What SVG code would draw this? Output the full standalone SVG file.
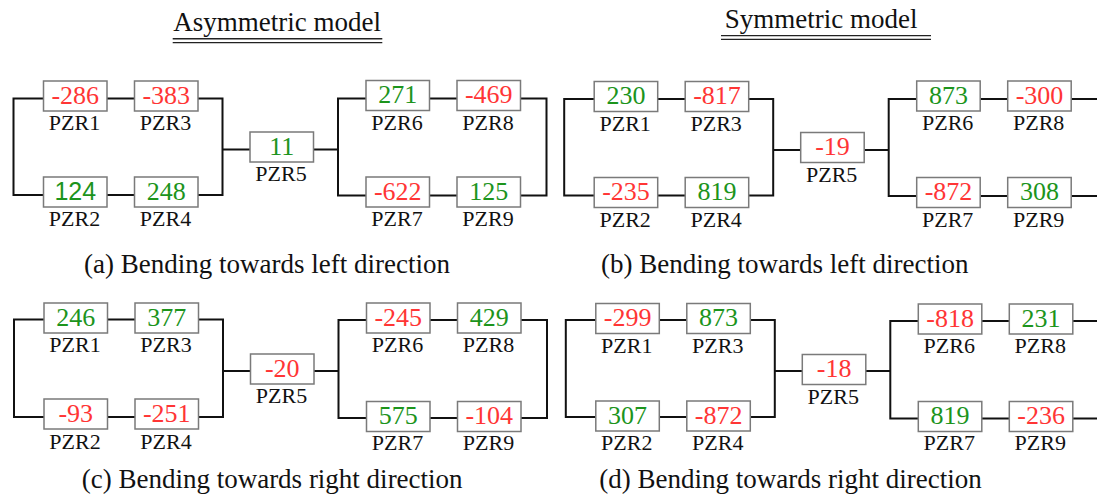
<svg xmlns="http://www.w3.org/2000/svg" width="1097" height="497" viewBox="0 0 1097 497">
<defs>
<style>
.bx{fill:#fff;stroke:#7a7a7a;stroke-width:1.5}
.ln{fill:none;stroke:#111;stroke-width:2}
.ul{stroke:#222;stroke-width:1.4}
.v{font-family:"Liberation Serif","Times New Roman",serif;font-size:26px;text-anchor:middle}
.vs{font-family:"Liberation Sans",Arial,sans-serif;font-size:25px;text-anchor:middle}
.r{fill:#ff3535}
.g{fill:#1c941c}
.lb{font-family:"Liberation Serif","Times New Roman",serif;font-size:22px;text-anchor:middle;fill:#111}
.t{font-family:"Liberation Serif","Times New Roman",serif;font-size:27px;fill:#111}
</style>
</defs>
<rect width="1097" height="497" fill="#fff"/>

<g id="titles">
<text class="t" x="173.3" y="31">Asymmetric model</text>
<line class="ul" x1="172.7" y1="38.8" x2="382.3" y2="38.8"/>
<line class="ul" x1="172.7" y1="42.6" x2="382.3" y2="42.6"/>
<text class="t" x="724.7" y="27.5">Symmetric model</text>
<line class="ul" x1="721" y1="35.6" x2="931" y2="35.6"/>
<line class="ul" x1="721" y1="39.4" x2="931" y2="39.4"/>
</g>

<g id="captions">
<text class="t" x="84" y="273">(a) Bending towards left direction</text>
<text class="t" x="601" y="273">(b) Bending towards left direction</text>
<text class="t" x="81.7" y="488.3">(c) Bending towards right direction</text>
<text class="t" x="599.3" y="488.3">(d) Bending towards right direction</text>
</g>

<!-- Panel a -->
<g id="panel-a">
<g id="a-connectors">
<path class="ln" d="M43.5 98.5H13.5V195H43.5"/>
<path class="ln" d="M107 98.5H134.5M107 195H134.5"/>
<path class="ln" d="M198 98.5H222.5V195H198M222.5 149.5H250"/>
<path class="ln" d="M313.5 149.5H338M366 98.5H338V195.5H366"/>
<path class="ln" d="M429.5 98.5H457M429.5 195.5H457"/>
<path class="ln" d="M520.5 98.5H546.5V195.5H520.5"/>
</g>
<g id="a-pzr1"><rect class="bx" x="43.5" y="81" width="63.5" height="30"/><text class="v r" x="75.3" y="103.5">-286</text><text class="lb" x="74.5" y="130">PZR1</text></g>
<g id="a-pzr3"><rect class="bx" x="134.5" y="81" width="63.5" height="30"/><text class="v r" x="166.3" y="103.5">-383</text><text class="lb" x="165.5" y="130">PZR3</text></g>
<g id="a-pzr2"><rect class="bx" x="43.5" y="177" width="63.5" height="30"/><text class="vs g" x="75.3" y="200">124</text><text class="lb" x="74.5" y="226">PZR2</text></g>
<g id="a-pzr4"><rect class="bx" x="134.5" y="177" width="63.5" height="30"/><text class="v g" x="166.3" y="199.5">248</text><text class="lb" x="165.5" y="226">PZR4</text></g>
<g id="a-pzr5"><rect class="bx" x="250" y="132" width="63.5" height="30"/><text class="v g" x="281.8" y="154.5">11</text><text class="lb" x="281" y="181">PZR5</text></g>
<g id="a-pzr6"><rect class="bx" x="366" y="80.5" width="63.5" height="30"/><text class="v g" x="397.8" y="103">271</text><text class="lb" x="397" y="129.5">PZR6</text></g>
<g id="a-pzr8"><rect class="bx" x="457" y="80.5" width="63.5" height="30"/><text class="v r" x="488.8" y="103">-469</text><text class="lb" x="488" y="129.5">PZR8</text></g>
<g id="a-pzr7"><rect class="bx" x="366" y="177" width="63.5" height="30"/><text class="v r" x="397.8" y="199.5">-622</text><text class="lb" x="397" y="226">PZR7</text></g>
<g id="a-pzr9"><rect class="bx" x="457" y="177" width="63.5" height="30"/><text class="v g" x="488.8" y="199.5">125</text><text class="lb" x="488" y="226">PZR9</text></g>
</g>

<!-- Panel b -->
<g id="panel-b" transform="translate(550.7,0.5)">
<g id="b-connectors">
<path class="ln" d="M43.5 98.5H13.5V195H43.5"/>
<path class="ln" d="M107 98.5H134.5M107 195H134.5"/>
<path class="ln" d="M198 98.5H222.5V195H198M222.5 149.5H250"/>
<path class="ln" d="M313.5 149.5H338M366 98.5H338V195.5H366"/>
<path class="ln" d="M429.5 98.5H457M429.5 195.5H457"/>
<path class="ln" d="M520.5 98.5H548M520.5 195.5H548"/>
</g>
<g id="b-pzr1"><rect class="bx" x="43.5" y="81" width="63.5" height="30"/><text class="v g" x="75.3" y="103.5">230</text><text class="lb" x="74.5" y="130">PZR1</text></g>
<g id="b-pzr3"><rect class="bx" x="134.5" y="81" width="63.5" height="30"/><text class="v r" x="166.3" y="103.5">-817</text><text class="lb" x="165.5" y="130">PZR3</text></g>
<g id="b-pzr2"><rect class="bx" x="43.5" y="177" width="63.5" height="30"/><text class="v r" x="75.3" y="199.5">-235</text><text class="lb" x="74.5" y="226">PZR2</text></g>
<g id="b-pzr4"><rect class="bx" x="134.5" y="177" width="63.5" height="30"/><text class="v g" x="166.3" y="199.5">819</text><text class="lb" x="165.5" y="226">PZR4</text></g>
<g id="b-pzr5"><rect class="bx" x="250" y="132" width="63.5" height="30"/><text class="v r" x="281.8" y="154.5">-19</text><text class="lb" x="281" y="181">PZR5</text></g>
<g id="b-pzr6"><rect class="bx" x="366" y="80.5" width="63.5" height="30"/><text class="v g" x="397.8" y="103">873</text><text class="lb" x="397" y="129.5">PZR6</text></g>
<g id="b-pzr8"><rect class="bx" x="457" y="80.5" width="63.5" height="30"/><text class="v r" x="488.8" y="103">-300</text><text class="lb" x="488" y="129.5">PZR8</text></g>
<g id="b-pzr7"><rect class="bx" x="366" y="177" width="63.5" height="30"/><text class="v r" x="397.8" y="199.5">-872</text><text class="lb" x="397" y="226">PZR7</text></g>
<g id="b-pzr9"><rect class="bx" x="457" y="177" width="63.5" height="30"/><text class="v g" x="488.8" y="199.5">308</text><text class="lb" x="488" y="226">PZR9</text></g>
</g>

<!-- Panel c -->
<g id="panel-c" transform="translate(0.5,222)">
<g id="c-connectors">
<path class="ln" d="M43.5 97.5H13.5V195H43.5"/>
<path class="ln" d="M107 97.5H134.5M107 195H134.5"/>
<path class="ln" d="M198 97.5H222.5V195H198M222.5 149H250"/>
<path class="ln" d="M313.5 149H338M366 98H338V196H366"/>
<path class="ln" d="M429.5 98H457M429.5 196H457"/>
<path class="ln" d="M520.5 98H546.5V196H520.5"/>
</g>
<g id="c-pzr1"><rect class="bx" x="43.5" y="81" width="63.5" height="30"/><text class="v g" x="75.3" y="103.5">246</text><text class="lb" x="74.5" y="130">PZR1</text></g>
<g id="c-pzr3"><rect class="bx" x="134.5" y="81" width="63.5" height="30"/><text class="v g" x="166.3" y="103.5">377</text><text class="lb" x="165.5" y="130">PZR3</text></g>
<g id="c-pzr2"><rect class="bx" x="43.5" y="177" width="63.5" height="30"/><text class="v r" x="75.3" y="199.5">-93</text><text class="lb" x="74.5" y="226.5">PZR2</text></g>
<g id="c-pzr4"><rect class="bx" x="134.5" y="177" width="63.5" height="30"/><text class="v r" x="166.3" y="199.5">-251</text><text class="lb" x="165.5" y="226.5">PZR4</text></g>
<g id="c-pzr5"><rect class="bx" x="250" y="132" width="63.5" height="30"/><text class="v r" x="281.8" y="154.5">-20</text><text class="lb" x="281" y="181">PZR5</text></g>
<g id="c-pzr6"><rect class="bx" x="366" y="81" width="63.5" height="30"/><text class="v r" x="397.8" y="103.5">-245</text><text class="lb" x="397" y="130">PZR6</text></g>
<g id="c-pzr8"><rect class="bx" x="457" y="81" width="63.5" height="30"/><text class="v g" x="488.8" y="103.5">429</text><text class="lb" x="488" y="130">PZR8</text></g>
<g id="c-pzr7"><rect class="bx" x="366" y="179.5" width="63.5" height="30"/><text class="v g" x="397.8" y="202">575</text><text class="lb" x="397" y="228">PZR7</text></g>
<g id="c-pzr9"><rect class="bx" x="457" y="179.5" width="63.5" height="30"/><text class="v r" x="488.8" y="202">-104</text><text class="lb" x="488" y="228">PZR9</text></g>
</g>

<!-- Panel d -->
<g id="panel-d" transform="translate(552.3,222.5)">
<g id="d-connectors">
<path class="ln" d="M43.5 97.5H13.5V194.5H43.5"/>
<path class="ln" d="M107 97.5H134.5M107 194.5H134.5"/>
<path class="ln" d="M198 97.5H222.5V194.5H198M222.5 148.5H250"/>
<path class="ln" d="M313.5 148.5H338M366 98.5H338V196H366"/>
<path class="ln" d="M429.5 98.5H457M429.5 196H457"/>
<path class="ln" d="M520.5 98.5H546M520.5 196H546"/>
</g>
<g id="d-pzr1"><rect class="bx" x="43.5" y="81" width="63.5" height="30"/><text class="v r" x="75.3" y="103.5">-299</text><text class="lb" x="74.5" y="130">PZR1</text></g>
<g id="d-pzr3"><rect class="bx" x="134.5" y="81" width="63.5" height="30"/><text class="v g" x="166.3" y="103.5">873</text><text class="lb" x="165.5" y="130">PZR3</text></g>
<g id="d-pzr2"><rect class="bx" x="43.5" y="178.5" width="63.5" height="30"/><text class="v g" x="75.3" y="201">307</text><text class="lb" x="74.5" y="227">PZR2</text></g>
<g id="d-pzr4"><rect class="bx" x="134.5" y="178.5" width="63.5" height="30"/><text class="v r" x="166.3" y="201">-872</text><text class="lb" x="165.5" y="227">PZR4</text></g>
<g id="d-pzr5"><rect class="bx" x="250" y="132" width="63.5" height="30"/><text class="v r" x="281.8" y="154.5">-18</text><text class="lb" x="281" y="181">PZR5</text></g>
<g id="d-pzr6"><rect class="bx" x="366" y="81.5" width="63.5" height="30"/><text class="v r" x="397.8" y="104">-818</text><text class="lb" x="397" y="130.5">PZR6</text></g>
<g id="d-pzr8"><rect class="bx" x="457" y="81.5" width="63.5" height="30"/><text class="v g" x="488.8" y="104">231</text><text class="lb" x="488" y="130.5">PZR8</text></g>
<g id="d-pzr7"><rect class="bx" x="366" y="179" width="63.5" height="30"/><text class="v g" x="397.8" y="201.5">819</text><text class="lb" x="397" y="227.5">PZR7</text></g>
<g id="d-pzr9"><rect class="bx" x="457" y="179" width="63.5" height="30"/><text class="v r" x="488.8" y="201.5">-236</text><text class="lb" x="488" y="227.5">PZR9</text></g>
</g>
</svg>
